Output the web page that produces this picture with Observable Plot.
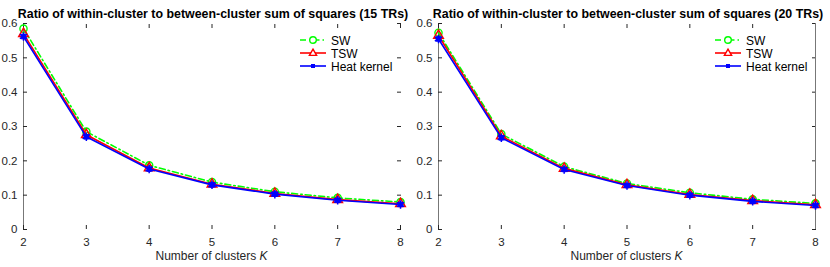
<!DOCTYPE html>
<html>
<head>
<meta charset="utf-8">
<script src="https://cdn.jsdelivr.net/npm/d3@7"></script>
<script src="https://cdn.jsdelivr.net/npm/@observablehq/plot@0.6"></script>
<style>
  html, body { margin: 0; padding: 0; background: #fff; }
  #chart { display: flex; width: 830px; height: 267px; font-family: "Liberation Sans", Arial, sans-serif; }
  #chart svg { display: block; }
</style>
</head>
<body>
<div id="chart"></div>
<script>
const clusters = [2, 3, 4, 5, 6, 7, 8];
const yTicks = [0, 0.1, 0.2, 0.3, 0.4, 0.5, 0.6];
const seriesNames = ["SW", "TSW", "Heat kernel"];
const seriesColors = ["#00ff00", "#ff0000", "#0000ff"];
const titles = [
  "Ratio of within-cluster to between-cluster sum of squares (15 TRs)",
  "Ratio of within-cluster to between-cluster sum of squares (20 TRs)"
];
// Panel 1 (15 TRs)
const sw15   = [0.585, 0.285, 0.187, 0.138, 0.110, 0.092, 0.080];
const tsw15  = [0.570, 0.276, 0.179, 0.132, 0.105, 0.087, 0.075];
const heat15 = [0.562, 0.270, 0.176, 0.130, 0.103, 0.085, 0.073];
// Panel 2 (20 TRs)
const sw20   = [0.573, 0.278, 0.183, 0.134, 0.107, 0.088, 0.076];
const tsw20  = [0.565, 0.272, 0.178, 0.130, 0.102, 0.084, 0.072];
const heat20 = [0.555, 0.267, 0.175, 0.128, 0.100, 0.082, 0.070];

const panels = [
  {title: titles[0], series: [sw15, tsw15, heat15], rightLine: false},
  {title: titles[1], series: [sw20, tsw20, heat20], rightLine: true}
];

const dashes = ["6,3,1.5,3", null, null];
const symbols = ["circle", "triangle", "asterisk"];

function rows(values, name) {
  return clusters.map((k, i) => ({k, v: values[i], name}));
}

const axisColor = "#262626";
const noLabel = () => "";

for (const p of panels) {
  const data = p.series.map((s, i) => rows(s, seriesNames[i]));
  const marks = [
    Plot.ruleX([clusters[0]], {stroke: "#777", strokeWidth: 1}),
    Plot.axisX({anchor: "bottom", ticks: clusters, tickSize: -4, tickPadding: 12, tickFormat: d => String(d), label: null, fontSize: 11.5, color: axisColor}),
    Plot.axisX({anchor: "top", ticks: clusters, tickSize: -4, tickFormat: noLabel, label: null, color: axisColor}),
    Plot.axisY({anchor: "left", ticks: yTicks, tickSize: -4, tickPadding: 10, tickFormat: d => d === 0 ? "0" : String(d), label: null, fontSize: 11.5, color: axisColor}),
    Plot.axisY({anchor: "right", ticks: yTicks, tickSize: -4, tickFormat: noLabel, label: null, color: axisColor}),
  ];
  if (p.rightLine) marks.push(Plot.ruleX([clusters[clusters.length - 1]], {stroke: "#777", strokeWidth: 1}));
  data.forEach((d, i) => {
    marks.push(Plot.line(d, {x: "k", y: "v", stroke: seriesColors[i], strokeWidth: 1.6, strokeDasharray: dashes[i]}));
    if (i === 2) {
      marks.push(Plot.dot(d, {x: "k", y: "v", symbol: "square", r: 2.6, fill: seriesColors[i], stroke: seriesColors[i], strokeWidth: 1}));
      marks.push(Plot.dot(d, {x: "k", y: "v", symbol: "asterisk", r: 4, stroke: seriesColors[i], strokeWidth: 1.5}));
    } else {
      marks.push(Plot.dot(d, {x: "k", y: "v", symbol: symbols[i], r: 3.6, fill: "none", stroke: seriesColors[i], strokeWidth: 1.4}));
    }
  });
  marks.push(Plot.text([p.title], {frameAnchor: "top", dy: -14, dx: 1, fontSize: 12.4, fontWeight: "bold", fill: "#000"}));

  const svg = Plot.plot({
    width: 415, height: 267,
    marginLeft: 23, marginRight: 15, marginTop: 23, marginBottom: 38,
    x: {domain: [clusters[0], clusters[clusters.length - 1]]},
    y: {domain: [yTicks[0], yTicks[yTicks.length - 1]]},
    style: {fontFamily: "'Liberation Sans', Arial, sans-serif", fontSize: "11.5px", background: "#fff"},
    marks
  });

  const s = d3.select(svg);
  // x axis label with italic K
  const lab = s.append("text")
    .attr("x", (23 + 415 - 15) / 2).attr("y", 260)
    .attr("text-anchor", "middle")
    .attr("font-size", 12).attr("fill", "#262626");
  lab.append("tspan").text("Number of clusters ");
  lab.append("tspan").attr("font-style", "italic").text("K");

  // legend
  const lg = s.append("g").attr("transform", "translate(300,40)").attr("text-anchor", "start");
  seriesNames.forEach((name, i) => {
    const g = lg.append("g").attr("transform", `translate(0,${i * 13})`);
    g.append("line").attr("x1", 0).attr("x2", 26).attr("y1", 0).attr("y2", 0)
      .attr("stroke", seriesColors[i]).attr("stroke-width", 1.6)
      .attr("stroke-dasharray", dashes[i]);
    if (i === 0) g.append("circle").attr("cx", 13).attr("cy", 0).attr("r", 3.3).attr("fill", "#fff").attr("stroke", seriesColors[i]).attr("stroke-width", 1.4);
    if (i === 1) g.append("path").attr("d", "M13,-3.8L16.6,2.4L9.4,2.4Z").attr("fill", "#fff").attr("stroke", seriesColors[i]).attr("stroke-width", 1.4);
    if (i === 2) g.append("rect").attr("x", 11).attr("y", -2).attr("width", 4).attr("height", 4).attr("fill", seriesColors[i]);
    g.append("text").attr("x", 31).attr("y", 4.5).attr("text-anchor", "start").attr("font-size", 12).attr("fill", "#000").text(name);
  });

  document.getElementById("chart").appendChild(svg);
}
</script>
</body>
</html>
